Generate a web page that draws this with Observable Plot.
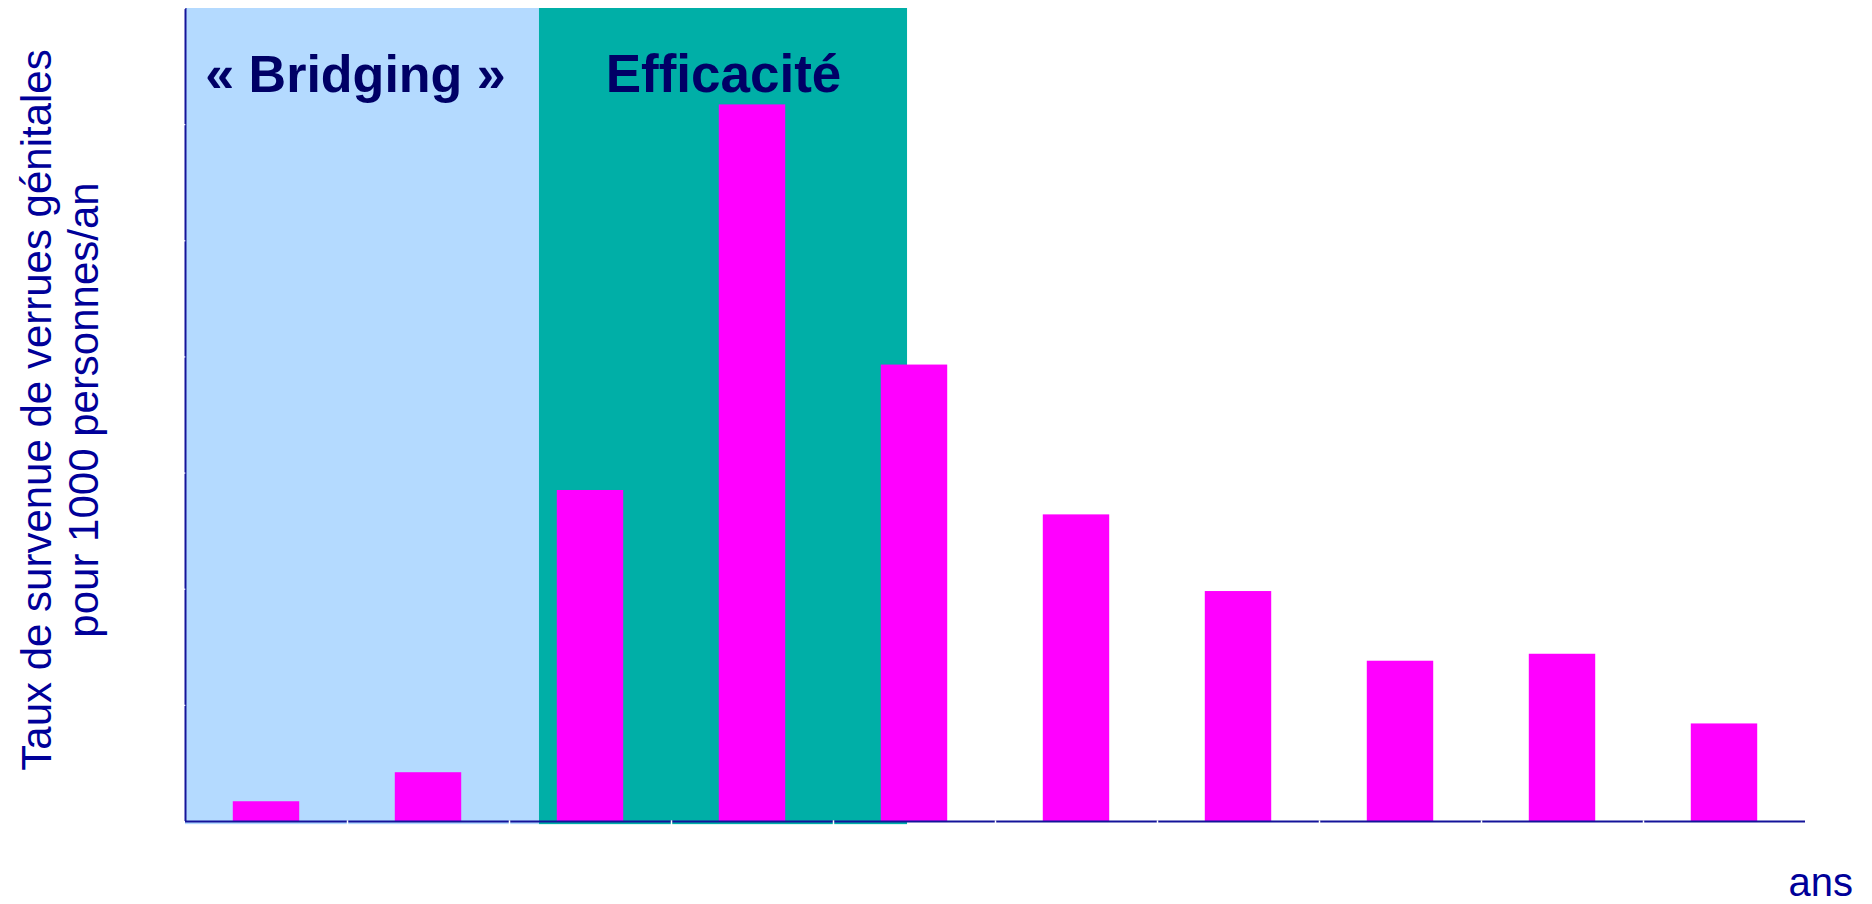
<!DOCTYPE html>
<html>
<head>
<meta charset="utf-8">
<script src="https://cdn.jsdelivr.net/npm/d3@7"></script>
<script src="https://cdn.jsdelivr.net/npm/@observablehq/plot@0.6"></script>
<style>
  html, body { margin: 0; padding: 0; background: #ffffff; }
  #chart svg { display: block; }
</style>
</head>
<body>
<div id="chart"></div>
<script>
// ---- data ----
const years = [1, 2, 3, 4, 5, 6, 7, 8, 9, 10];
const rates = [0.17, 0.42, 2.85, 6.17, 3.93, 2.64, 1.98, 1.38, 1.44, 0.84];
const phaseLabels = ["« Bridging »", "Efficacité"];
const phaseStart = [0, 2.185];
const phaseEnd = [2.185, 4.457];
const phaseColors = ["#b4daff", "#00afa7"];
const yTicks = [1, 2, 3, 4, 5, 6, 7];
const yLabel = "Taux de survenue de verrues génitales\npour 1000 personnes/an";
const xLabel = "ans";

const bars = years.map((yr, i) => ({ year: yr, rate: rates[i] }));
const phases = phaseLabels.map((l, i) => ({ label: l, start: phaseStart[i], end: phaseEnd[i], color: phaseColors[i] }));
const boundaries = years.slice(1).map(yr => yr - 1);

const barWidth = 0.41;
const axisColor = "#14149a";
const font = "'Liberation Sans', Arial, Helvetica, sans-serif";

const phaseText = (index, dx, size) => Plot.text(phases, {
  filter: (d, i) => i === index,
  x: d => (d.start + d.end) / 2, text: "label",
  frameAnchor: "top", dy: 83, dx, lineAnchor: "bottom", textAnchor: "middle",
  fontSize: size, fontWeight: "bold", fill: "#000066"
});

const chart = Plot.plot({
  width: 1872,
  height: 904,
  marginLeft: 185,
  marginRight: 67,
  marginTop: 8,
  marginBottom: 83,
  style: { fontFamily: font, background: "#ffffff" },
  x: { domain: [0, 10], axis: null },
  y: { domain: [0, 7], axis: null },
  marks: [
    Plot.rect(phases, { x1: "start", x2: "end", y1: -0.027, y2: 7, fill: d => d.color }),
    Plot.rect(bars, {
      x1: d => d.year - 1 + (1 - barWidth) / 2,
      x2: d => d.year - (1 - barWidth) / 2,
      y1: 0, y2: "rate", fill: "#ff00ff"
    }),
    Plot.ruleY([0], { x1: 0, x2: 10, stroke: axisColor, strokeWidth: 2 }),
    Plot.ruleX([0], { y1: 0, y2: 7, stroke: axisColor, strokeWidth: 2 }),
    Plot.ruleX(boundaries, { x: d => d, y1: -0.035, y2: 0.006, stroke: "#ffffff", strokeWidth: 1.5 }),
    Plot.ruleY(yTicks, { y: d => d, x1: -0.007, x2: 0.002, stroke: "#ffffff", strokeWidth: 1.2 }),
    phaseText(0, -7, 52),
    phaseText(1, 0, 53),
    Plot.text([yLabel], {
      text: d => d, frameAnchor: "left", rotate: -90, dx: -126, dy: -5,
      textAnchor: "middle", lineAnchor: "middle", lineHeight: 1.13,
      fontSize: 42, fill: "#000099"
    }),
    Plot.text([xLabel], {
      text: d => d, frameAnchor: "bottom-right", dx: -17, dy: 74,
      textAnchor: "start", lineAnchor: "bottom",
      fontSize: 40, fill: "#000099"
    })
  ]
});
document.getElementById("chart").appendChild(chart);
</script>
</body>
</html>
